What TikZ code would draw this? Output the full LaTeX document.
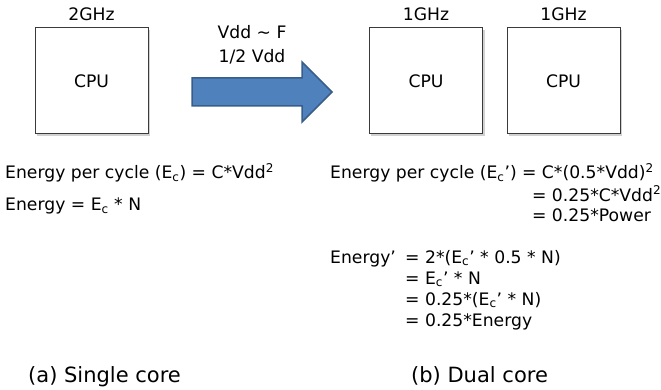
\documentclass[tikz,border=0pt]{standalone}
\usepackage{fontspec}
\setmainfont{DejaVu Sans}
\newcommand\Ecc{E\textsubscript{c}}
\newcommand\sqd{\textsuperscript{2}}
\definecolor{arrowfill}{HTML}{4F81BD}
\definecolor{arrowline}{HTML}{385D8A}
\definecolor{boxline}{HTML}{3A3A3A}
\begin{document}
\begin{tikzpicture}[x=1pt,y=-1pt,
  txt/.style={font=\fontsize{17.2}{21}\selectfont, inner sep=0pt, anchor=base west},
  ctxt/.style={txt, anchor=base},
  captxt/.style={font=\fontsize{21}{25}\selectfont, inner sep=0pt, anchor=base west},
  cpubox/.style={draw=boxline, line width=1pt, fill=white, minimum width=113pt, minimum height=106pt, inner sep=0pt, font=\fontsize{17.2}{21}\selectfont},
  shadowline/.style={draw=black!18, line width=1.5pt}]
\useasboundingbox (0,0) rectangle (661,390);
% single core
\draw[shadowline] (149,30) -- (149,135) -- (37,135);
\node[cpubox] (cpu1) at (91.5,81) {CPU};
\node[ctxt] (f1) at (91.5,21) {2GHz};
% arrow
\draw[fill=arrowfill, draw=arrowline, line width=1.5pt, line join=miter]
  (192,78) -- (302,78) -- (302,62) -- (332,92) -- (302,122) -- (302,106) -- (192,106) -- cycle;
\node[ctxt] (lbl1) at (252,39) {Vdd \textasciitilde{} F};
\node[ctxt] (lbl2) at (252,63) {1/2 Vdd};
% dual core
\draw[shadowline] (484,30) -- (484,135) -- (371,135);
\draw[shadowline] (621,30) -- (621,135) -- (509,135);
\node[cpubox] (cpu2) at (426,81) {CPU};
\node[cpubox] (cpu3) at (563.5,81) {CPU};
\node[ctxt] (f2) at (426,21) {1GHz};
\node[ctxt] (f3) at (563.5,21) {1GHz};
% left equations
\node[txt] (l1) at (5,179) {Energy per cycle (\Ecc) = C*Vdd\sqd};
\node[txt] (l2) at (5,211) {Energy = \Ecc{} * N};
% right equations
\node[txt] (r1a) at (330,179) {Energy per cycle (\Ecc’)};
\node[txt] (r1b) at ([xshift=5pt]r1a.base east) {= C*(0.5*Vdd)\sqd};
\node[txt] (r2) at ([xshift=10pt,yshift=-22pt]r1b.base west) {= 0.25*C*Vdd\sqd};
\node[txt] (r3) at ([xshift=10pt,yshift=-43pt]r1b.base west) {= 0.25*Power};
\node[txt] (e0) at (330,263) {Energy’};
\node[txt] (e1) at (405,263) {= 2*(\Ecc’ * 0.5 * N)};
\node[txt] (e2) at (405,284) {= \Ecc’ * N};
\node[txt] (e3) at (405,305) {= 0.25*(\Ecc’ * N)};
\node[txt] (e4) at (405,326) {= 0.25*Energy};
% captions
\node[captxt] (ca) at (28,382) {(a) Single core};
\node[captxt] (cb) at (411,382) {(b) Dual core};
\end{tikzpicture}
\end{document}
